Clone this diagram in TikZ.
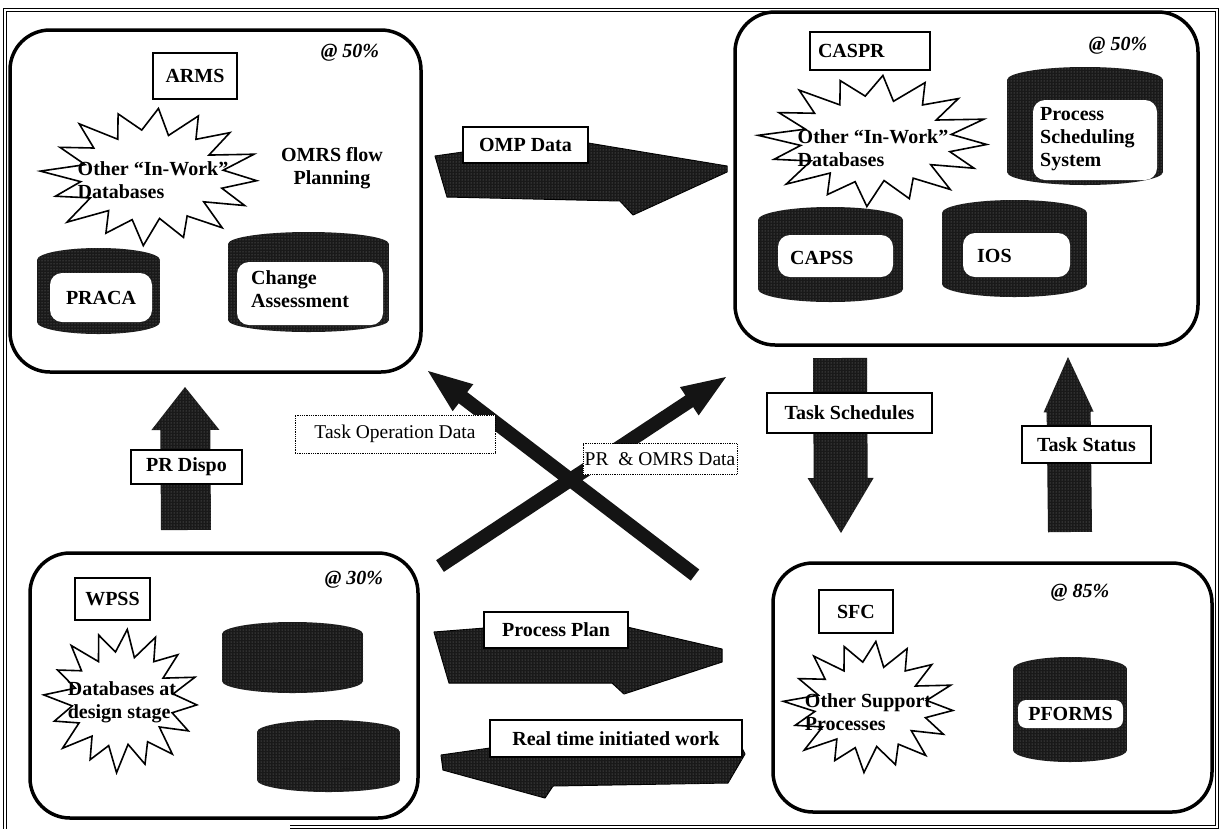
\documentclass[tikz,border=0pt]{standalone}
\usepackage{fontspec}
\setmainfont{Liberation Serif}
\usetikzlibrary{calc,patterns}

\tikzset{
 bigbox/.style={draw, line width=3.5pt, rounded corners=40pt, inner sep=0pt},
 labbox/.style={draw, line width=1.8pt, fill=white, inner sep=0pt, font=\fontsize{20}{23}\selectfont\bfseries},
 dotbox/.style={draw, densely dotted, line width=0.8pt, fill=white, inner sep=0pt, font=\fontsize{19.5}{22}\selectfont},
 txt/.style={font=\fontsize{20}{23}\selectfont\bfseries, inner sep=0pt, align=left},
 pct/.style={font=\fontsize{20}{23}\selectfont\bfseries\itshape, inner sep=0pt},
 dark/.style={fill=black!90, postaction={pattern=dots, pattern color=black!50}},
 flatarrow/.style={dark, draw=black, line width=1pt, line join=round},
 burst/.style={draw, line width=1.6pt, fill=white, line join=miter},
 innerbox/.style={fill=white, rounded corners=12pt, inner sep=0pt},
 xarrow/.style={fill=black!92},
}

% name, x1, y1, x2, y2, e
\newcommand\dbcyl[6]{%
 \node[inner sep=0pt, minimum width={#4-#2}, minimum height={#5-#3}] (#1) at ({(#2+#4)/2},{(#3+#5)/2}) {};
 \fill[dark] (#2,{#3+#6}) rectangle (#4,{#5-#6});
 \fill[dark] ({(#2+#4)/2},{#5-#6}) ellipse [x radius={(#4-#2)/2*1pt}, y radius={#6*1pt}];
 \fill[dark] ({(#2+#4)/2},{#3+#6}) ellipse [x radius={(#4-#2)/2*1pt}, y radius={#6*1pt}];
}
% cx, cy, rx, ry
\newcommand\starburstshape[4]{%
 \draw[burst, shift={(#1,#2)}] plot[samples at={0,...,31}, variable=\k]
  ({#3*(0.83+0.17*cos(180*\k))*(1+0.05*sin(\k*97))*cos(\k*11.25+4)},
   {#4*(0.83+0.17*cos(180*\k))*(1+0.05*sin(\k*97))*sin(\k*11.25+4)}) -- cycle;
}
% tail, tip, shaft half width, head half width, head length, style
\newcommand\straightarrow[6]{%
 \coordinate (hb) at ($(#2)!#5pt!(#1)$);
 \fill[#6] ($(#1)!#3pt!90:(#2)$) -- ($(hb)!#3pt!-90:(#1)$) -- ($(hb)!#4pt!-90:(#1)$)
  -- (#2) -- ($(hb)!#4pt!90:(#1)$) -- ($(hb)!#3pt!90:(#1)$) -- ($(#1)!#3pt!-90:(#2)$) -- cycle;
}

\begin{document}
\begin{tikzpicture}[x=1pt,y=-1pt]
\useasboundingbox (0,0) rectangle (1221,831);
\fill[white] (0,0) rectangle (1221,831);

% outer frame
\draw[double, double distance=2pt, line width=0.9pt] (290,827) -- (1217,827) -- (1217,10) -- (5,10) -- (5,829);

% ---------- big boxes ----------
\node[bigbox, minimum width=411, minimum height=342] (arms) at (215.5,201) {};
\node[bigbox, minimum width=463, minimum height=333] (caspr) at (966.5,178.5) {};
\node[bigbox, minimum width=388, minimum height=265] (wpss) at (224,685.5) {};
\node[bigbox, minimum width=439, minimum height=249] (sfc) at (992.5,687.5) {};

% ---------- ARMS contents ----------
\node[pct] (armspct) at (350,53) {@ 50\%};
\starburstshape{151}{176}{106}{67}
\node[txt] (armsburst) at (153,180) {Other “In-Work”\\Databases};
\node[txt, align=center] (omrs) at (332,168) {OMRS flow\\Planning};
\dbcyl{pracadb}{37}{248}{160}{334}{12}
\node[innerbox, minimum width=102, minimum height=49, font=\fontsize{20}{23}\selectfont\bfseries] (praca) at (101,297.5) {PRACA};
\dbcyl{chgdb}{228}{232}{389}{332}{12}
\node[innerbox, minimum width=146, minimum height=63] (chgbox) at (310,293.5) {};
\node[txt, anchor=west] (chg) at (251,289) {Change\\Assessment};

% ---------- CASPR contents ----------
\node[pct] (casprpct) at (1118,46) {@ 50\%};
\starburstshape{875}{140}{112}{64}
\node[txt] (casprburst) at (873,148) {Other “In-Work”\\Databases};
\dbcyl{pssdb}{1007}{67}{1163}{185}{13}
\node[innerbox, minimum width=124, minimum height=80] (pssbox) at (1095,140) {};
\node[txt, anchor=west] (pss) at (1040,139) {Process\\Scheduling\\System};
\dbcyl{capssdb}{758}{207}{903}{302}{13}
\node[innerbox, minimum width=115, minimum height=42] (capssbox) at (835.5,256) {};
\node[txt, anchor=west] (capss) at (790,258) {CAPSS};
\dbcyl{iosdb}{942}{200}{1087}{297}{13}
\node[innerbox, minimum width=107, minimum height=44] (iosbox) at (1016.5,255) {};
\node[txt, anchor=west] (ios) at (977,256) {IOS};

% ---------- WPSS contents ----------
\node[pct] (wpsspct) at (354,580) {@ 30\%};
\starburstshape{122}{700}{75}{70}
\node[txt] (wpssburst) at (122,702) {Databases at\\design stage};
\dbcyl{wdb1}{222}{622}{363}{693}{12}
\dbcyl{wdb2}{257}{720}{400}{792}{12}

% ---------- SFC contents ----------
\node[pct] (sfcpct) at (1080,593) {@ 85\%};
\starburstshape{870}{706}{83}{64}
\node[txt] (sfcburst) at (868,712) {Other Support\\Processes};
\dbcyl{pformsdb}{1013}{657}{1127}{762}{12}
\node[innerbox, rounded corners=8pt, minimum width=105, minimum height=28, font=\fontsize{20}{23}\selectfont\bfseries] (pforms) at (1070.5,714) {PFORMS};

% ---------- flat 3D arrows ----------
\fill[flatarrow] (435,156) -- (463,152) -- (588,143) -- (727,166) -- (727,172) -- (633,215) -- (620,201) -- (447,197) -- cycle;
\fill[flatarrow] (434,632) -- (485,628) -- (627,627) -- (722,649) -- (722,662) -- (624,694) -- (612,683) -- (449,683) -- cycle;
\fill[flatarrow] (441,755) -- (490,748) -- (742,748) -- (745,754) -- (728,783) -- (553,786) -- (545,798) -- (443,770) -- cycle;

% ---------- vertical arrows ----------
\coordinate (prT) at (186,530); \coordinate (prH) at (185,387);
\straightarrow{prT}{prH}{25}{34}{43}{dark}
\coordinate (tsT) at (840,358); \coordinate (tsH) at (841,533);
\straightarrow{tsT}{tsH}{27}{33}{55}{dark}
\coordinate (tstT) at (1070,532); \coordinate (tstH) at (1068,357);
\straightarrow{tstT}{tstH}{22}{25}{55}{dark}

% ---------- crossing arrows ----------
\coordinate (toT) at (695,575); \coordinate (toH) at (428,371);
\straightarrow{toT}{toH}{7}{17}{44}{xarrow}
\coordinate (poT) at (440,566); \coordinate (poH) at (726,377);
\straightarrow{poT}{poH}{7}{17}{44}{xarrow}

% ---------- labels ----------
\node[labbox, minimum width=84, minimum height=46] (armslab) at (195,76) {ARMS};
\node[labbox, minimum width=120, minimum height=38, text width=104, align=left] (casprlab) at (870,51) {CASPR};
\node[labbox, minimum width=75, minimum height=42] (wpsslab) at (112.5,599) {WPSS};
\node[labbox, minimum width=74, minimum height=43] (sfclab) at (856,611.5) {SFC};
\node[labbox, minimum width=125, minimum height=36] (omplab) at (525.5,145) {OMP Data};
\node[labbox, minimum width=144, minimum height=36] (pplab) at (556,630) {Process Plan};
\node[labbox, minimum width=252, minimum height=37] (rtlab) at (616,738.5) {Real time initiated work};
\node[labbox, minimum width=111, minimum height=34] (prdlab) at (186.5,467) {PR Dispo};
\node[labbox, minimum width=165, minimum height=40] (tslab) at (849.5,413) {Task Schedules};
\node[labbox, minimum width=129, minimum height=37] (tstlab) at (1086.5,444.5) {Task Status};
\node[dotbox, minimum width=200, minimum height=38] (tolab) at (395,434) {Task Operation Data};
\node[dotbox, minimum width=154, minimum height=31] (polab) at (660,459) {PR~~\& OMRS Data};
\end{tikzpicture}
\end{document}
